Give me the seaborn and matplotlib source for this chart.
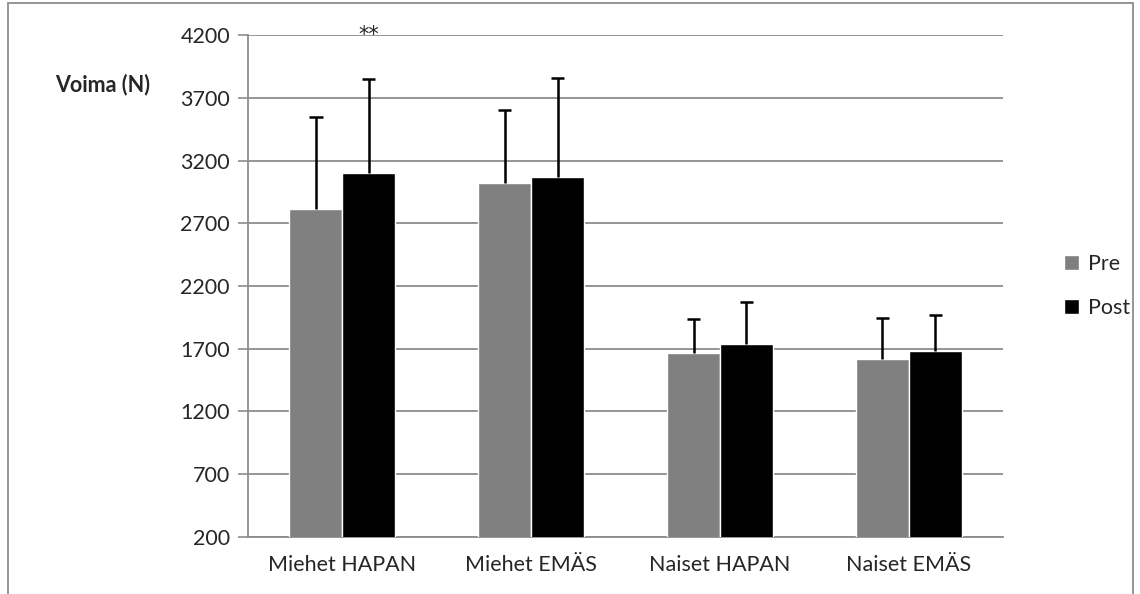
import numpy as np
import pandas as pd
import seaborn as sns
import matplotlib.pyplot as plt
from matplotlib.patches import Patch, Rectangle

groups = ['Miehet HAPAN', 'Miehet EMÄS', 'Naiset HAPAN', 'Naiset EMÄS']
pre = [2810, 3020, 1670, 1615]
post = [3100, 3070, 1740, 1680]
pre_sd = [740, 585, 268, 330]
post_sd = [750, 787, 335, 292]
yticks = [200, 700, 1200, 1700, 2200, 2700, 3200, 3700, 4200]

df = pd.DataFrame({
    'ryhma': groups * 2,
    'aika': ['Pre'] * 4 + ['Post'] * 4,
    'voima': pre + post,
    'sd': pre_sd + post_sd,
})

sns.set_theme(style='white')
plt.rcParams['font.family'] = ['Lato', 'DejaVu Sans']

fig = plt.figure(figsize=(11.4, 5.94), dpi=100)
ax = fig.add_axes([0.2175, 0.096, 0.6625, 0.845])

sns.barplot(data=df, x='ryhma', y='voima', hue='aika', order=groups,
            hue_order=['Pre', 'Post'], palette=['#808080', '#000000'],
            errorbar=None, width=0.56, saturation=1, ax=ax, zorder=3,
            legend=False)

# upward-only error bars with a cap at the top only
for cont, sds in zip(ax.containers, [pre_sd, post_sd]):
    for bar, sd in zip(cont, sds):
        xc = bar.get_x() + bar.get_width() / 2
        h = bar.get_height()
        ax.vlines(xc, h, h + sd, color='black', linewidth=1.8, zorder=4)
        ax.hlines(h + sd, xc - 0.035, xc + 0.035, color='black',
                  linewidth=1.8, zorder=4)

ax.set_ylim(200, 4200)
ax.set_xlim(-0.5, 3.5)
ax.set_yticks(yticks)
ax.set_yticklabels([str(t) for t in yticks], fontsize=15.5)
ax.yaxis.grid(True, color='#8c8c8c', linewidth=1.3, zorder=0)
ax.set_axisbelow(True)

ax.set_xticks(range(4))
ax.set_xticklabels(groups, fontsize=15.5)
ax.set_xticks([-0.5, 0.5, 1.5, 2.5, 3.5], minor=True)
ax.tick_params(axis='x', which='major', length=0, pad=13)
ax.tick_params(axis='x', which='minor', length=7, width=1.2, color='#8c8c8c')
ax.tick_params(axis='y', length=7, width=1.2, color='#8c8c8c', pad=6, left=True)

for s in ['top', 'right']:
    ax.spines[s].set_visible(False)
for s in ['left', 'bottom']:
    ax.spines[s].set_color('#8c8c8c')
    ax.spines[s].set_linewidth(1.3)

ax.set_xlabel('')
ax.set_ylabel('')
fig.text(0.048, 0.858, 'Voima (N)', fontsize=15.5, fontweight='bold',
         ha='left', va='center')

ax.text(0.14, 4120, '**', fontsize=15, ha='center', va='bottom',
        family=['DejaVu Sans'], clip_on=False)

handles = [Patch(facecolor='#808080'), Patch(facecolor='#000000')]
ax.legend(handles, ['Pre', 'Post'], loc='center left',
          bbox_to_anchor=(1.055, 0.5), frameon=False, fontsize=15.5,
          handlelength=0.7, handleheight=0.7, handletextpad=0.4,
          labelspacing=1.1)

fig.patches.append(Rectangle((0.007, -0.05), 0.987, 1.045, transform=fig.transFigure,
                             fill=False, edgecolor='#8c8c8c', linewidth=1.3))

fig.savefig('out.png', dpi=100)
